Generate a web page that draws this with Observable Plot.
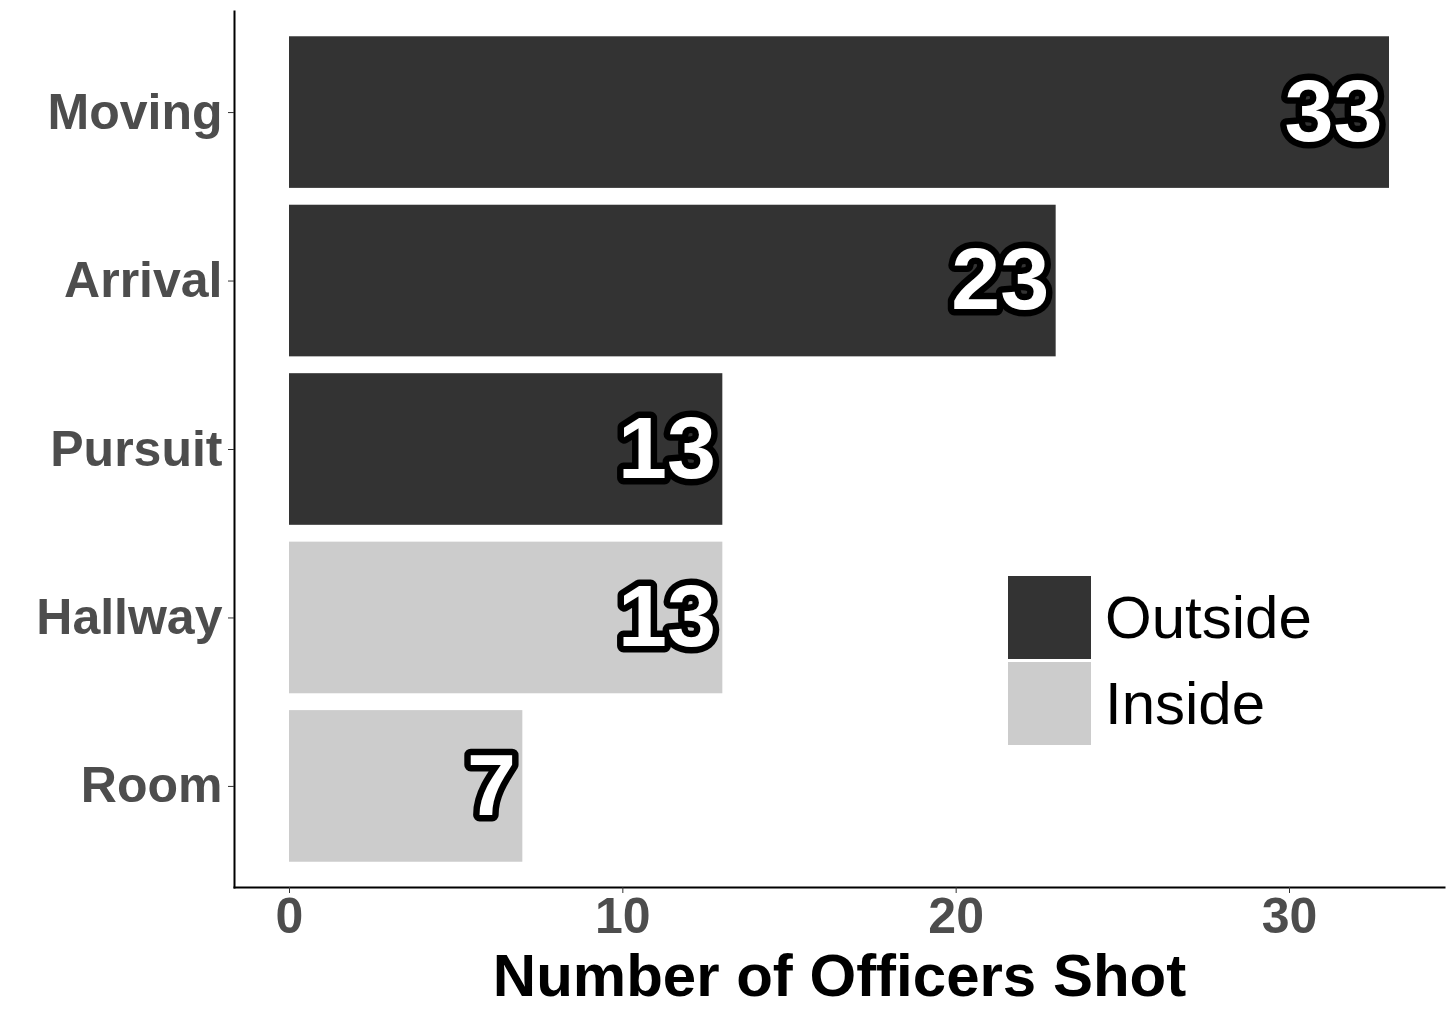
<!DOCTYPE html>
<html>
<head>
<meta charset="utf-8">
<script src="https://cdn.jsdelivr.net/npm/d3@7"></script>
<script src="https://cdn.jsdelivr.net/npm/@observablehq/plot@0.6"></script>
<style>
  html, body { margin: 0; padding: 0; background: #fff; }
  #wrap { position: relative; width: 1456px; height: 1019px; font-family: "Liberation Sans", Arial, sans-serif; }
  #legend { position: absolute; left: 1008px; top: 576px; }
  .item { display: flex; align-items: center; height: 83px; margin-bottom: 3px; }
  .sw { width: 83px; height: 83px; }
  .lab { margin-left: 14px; font-size: 60px; color: #000; line-height: 1; }
</style>
</head>
<body>
<div id="wrap"></div>
<script>
const categories = ["Moving", "Arrival", "Pursuit", "Hallway", "Room"];
const values = [33, 23, 13, 13, 7];
const groups = ["Outside", "Outside", "Outside", "Inside", "Inside"];
const groupNames = ["Outside", "Inside"];
const groupColors = ["#333333", "#cccccc"];
const xTicks = [0, 10, 20, 30];
const xDomain = [-1.65, 34.65];

const data = categories.map((c, i) => ({cat: c, value: values[i], group: groups[i]}));
const font = "'Liberation Sans', Arial, sans-serif";

const chart = Plot.plot({
  width: 1456,
  height: 1019,
  marginLeft: 234,
  marginRight: 12,
  marginTop: 11,
  marginBottom: 132,
  style: {fontFamily: font, background: "white"},
  x: {domain: xDomain, ticks: xTicks},
  y: {domain: categories, paddingInner: 0.1, paddingOuter: 0.15, round: false, label: null},
  color: {domain: groupNames, range: groupColors},
  marks: [
    Plot.barX(data, {x: "value", y: "cat", fill: "group"}),
    Plot.text(data, {
      x: "value", y: "cat", text: d => String(d.value),
      textAnchor: "end", dx: -7, dy: 0,
      fill: "white", stroke: "black", strokeWidth: 13, paintOrder: "stroke",
      strokeLinejoin: "round",
      fontSize: 88, fontWeight: "bold"
    }),
    Plot.frame({anchor: "left", stroke: "black", strokeWidth: 2}),
    Plot.frame({anchor: "bottom", stroke: "black", strokeWidth: 2}),
    Plot.axisY({tickSize: 6, tickPadding: 6, fontSize: 50, fontWeight: "bold", fill: "#4d4d4d", stroke: "#333", label: null}),
    Plot.axisX({ticks: xTicks, tickSize: 6, tickPadding: 4, fontSize: 50, fontWeight: "bold", fill: "#4d4d4d", stroke: "#333", label: null}),
    Plot.axisX({ticks: [], label: "Number of Officers Shot", labelAnchor: "center", labelArrow: false, labelOffset: 108, fontSize: 60, fontWeight: "bold", fill: "black"})
  ]
});

const wrap = document.getElementById("wrap");
wrap.appendChild(chart);

const legend = document.createElement("div");
legend.id = "legend";
groupNames.forEach((g, i) => {
  const item = document.createElement("div");
  item.className = "item";
  const sw = document.createElement("div");
  sw.className = "sw";
  sw.style.background = groupColors[i];
  const lab = document.createElement("span");
  lab.className = "lab";
  lab.textContent = g;
  item.appendChild(sw);
  item.appendChild(lab);
  legend.appendChild(item);
});
wrap.appendChild(legend);
</script>
</body>
</html>
